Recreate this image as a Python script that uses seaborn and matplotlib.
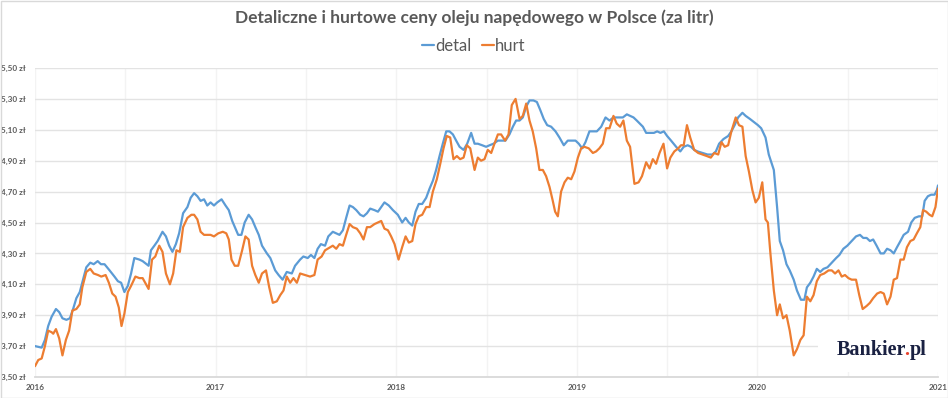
import numpy as np
import pandas as pd
import matplotlib
matplotlib.use("Agg")
import matplotlib.pyplot as plt
import seaborn as sns
from matplotlib.lines import Line2D
from matplotlib.patches import Rectangle

# Dane (rok dziesietny, cena w zl/litr)
detal_rok = [
    2016.000, 2016.037, 2016.055, 2016.073, 2016.092, 2016.116, 2016.134, 2016.152, 2016.174, 2016.193,
    2016.211, 2016.229, 2016.248, 2016.266, 2016.284, 2016.306, 2016.325, 2016.347, 2016.365, 2016.385,
    2016.413, 2016.440, 2016.459, 2016.477, 2016.495, 2016.514, 2016.532, 2016.550, 2016.578, 2016.596,
    2016.629, 2016.642, 2016.661, 2016.679, 2016.706, 2016.725, 2016.743, 2016.761, 2016.780, 2016.798,
    2016.820, 2016.844, 2016.862, 2016.881, 2016.899, 2016.917, 2016.936, 2016.954, 2016.972, 2016.991,
    2017.009, 2017.033, 2017.055, 2017.073, 2017.092, 2017.110, 2017.125, 2017.143, 2017.161, 2017.183,
    2017.202, 2017.220, 2017.239, 2017.257, 2017.284, 2017.303, 2017.330, 2017.349, 2017.371, 2017.394,
    2017.422, 2017.440, 2017.468, 2017.486, 2017.510, 2017.528, 2017.547, 2017.565, 2017.583, 2017.606,
    2017.624, 2017.649, 2017.668, 2017.686, 2017.705, 2017.723, 2017.742, 2017.760, 2017.779, 2017.801,
    2017.819, 2017.838, 2017.856, 2017.880, 2017.899, 2017.917, 2017.935, 2017.959, 2017.982, 2018.009,
    2018.033, 2018.052, 2018.070, 2018.089, 2018.107, 2018.125, 2018.144, 2018.166, 2018.185, 2018.203,
    2018.221, 2018.240, 2018.258, 2018.277, 2018.295, 2018.314, 2018.332, 2018.351, 2018.373, 2018.393,
    2018.415, 2018.434, 2018.452, 2018.476, 2018.498, 2018.517, 2018.539, 2018.563, 2018.581, 2018.605,
    2018.627, 2018.646, 2018.664, 2018.683, 2018.701, 2018.720, 2018.738, 2018.760, 2018.779, 2018.797,
    2018.817, 2018.836, 2018.858, 2018.882, 2018.904, 2018.928, 2018.950, 2018.969, 2018.993, 2019.011,
    2019.030, 2019.048, 2019.070, 2019.089, 2019.111, 2019.135, 2019.159, 2019.181, 2019.203, 2019.232,
    2019.255, 2019.277, 2019.295, 2019.314, 2019.332, 2019.366, 2019.384, 2019.403, 2019.427, 2019.445,
    2019.463, 2019.482, 2019.500, 2019.522, 2019.550, 2019.573, 2019.592, 2019.614, 2019.632, 2019.650,
    2019.669, 2019.696, 2019.724, 2019.751, 2019.770, 2019.788, 2019.812, 2019.838, 2019.856, 2019.874,
    2019.893, 2019.917, 2019.935, 2019.959, 2019.981, 2020.003, 2020.021, 2020.045, 2020.063, 2020.091,
    2020.109, 2020.124, 2020.142, 2020.161, 2020.179, 2020.201, 2020.219, 2020.241, 2020.260, 2020.274,
    2020.293, 2020.311, 2020.329, 2020.348, 2020.366, 2020.388, 2020.412, 2020.436, 2020.454, 2020.476,
    2020.498, 2020.522, 2020.546, 2020.568, 2020.586, 2020.605, 2020.623, 2020.641, 2020.660, 2020.682,
    2020.700, 2020.718, 2020.737, 2020.755, 2020.773, 2020.792, 2020.810, 2020.834, 2020.852, 2020.871,
    2020.894, 2020.913, 2020.926, 2020.944, 2020.962, 2020.981, 2020.994, 2021.000,
]
detal_cena = [
    3.70, 3.69, 3.74, 3.83, 3.89, 3.94, 3.92, 3.88, 3.87, 3.88,
    3.94, 4.01, 4.05, 4.13, 4.21, 4.24, 4.23, 4.25, 4.23, 4.23,
    4.19, 4.15, 4.12, 4.11, 4.05, 4.09, 4.17, 4.27, 4.26, 4.25,
    4.22, 4.32, 4.35, 4.38, 4.44, 4.41, 4.35, 4.31, 4.36, 4.43,
    4.56, 4.60, 4.66, 4.69, 4.67, 4.64, 4.65, 4.61, 4.63, 4.61,
    4.63, 4.65, 4.61, 4.58, 4.51, 4.46, 4.42, 4.42, 4.50, 4.55,
    4.52, 4.47, 4.42, 4.35, 4.30, 4.27, 4.19, 4.16, 4.13, 4.18,
    4.17, 4.22, 4.26, 4.28, 4.27, 4.29, 4.27, 4.33, 4.36, 4.35,
    4.41, 4.44, 4.43, 4.42, 4.45, 4.53, 4.61, 4.60, 4.58, 4.55,
    4.54, 4.56, 4.59, 4.58, 4.57, 4.60, 4.63, 4.61, 4.58, 4.55,
    4.50, 4.53, 4.50, 4.48, 4.57, 4.62, 4.62, 4.66, 4.72, 4.77,
    4.84, 4.93, 5.01, 5.09, 5.09, 5.07, 5.03, 4.99, 4.97, 5.01,
    5.08, 5.01, 5.01, 5.00, 4.99, 5.00, 5.01, 5.03, 5.03, 5.03,
    5.07, 5.12, 5.16, 5.16, 5.18, 5.25, 5.29, 5.29, 5.28, 5.23,
    5.17, 5.13, 5.12, 5.09, 5.05, 5.00, 5.03, 5.03, 5.03, 5.01,
    4.98, 5.02, 5.09, 5.09, 5.09, 5.12, 5.18, 5.16, 5.18, 5.18,
    5.18, 5.20, 5.19, 5.18, 5.16, 5.12, 5.08, 5.08, 5.08, 5.09,
    5.08, 5.09, 5.06, 5.03, 4.99, 4.96, 4.99, 5.00, 4.99, 4.97,
    4.96, 4.95, 4.94, 4.94, 4.96, 5.01, 5.04, 5.06, 5.09, 5.13,
    5.18, 5.21, 5.19, 5.17, 5.15, 5.13, 5.11, 5.05, 4.94, 4.84,
    4.60, 4.38, 4.32, 4.23, 4.19, 4.13, 4.06, 4.00, 4.00, 4.08,
    4.11, 4.15, 4.20, 4.18, 4.20, 4.21, 4.24, 4.27, 4.29, 4.33,
    4.35, 4.38, 4.41, 4.42, 4.40, 4.40, 4.38, 4.39, 4.35, 4.30,
    4.30, 4.33, 4.32, 4.30, 4.34, 4.38, 4.42, 4.44, 4.50, 4.53,
    4.54, 4.54, 4.64, 4.67, 4.68, 4.68, 4.71, 4.74,
]

hurt_rok = [
    2016.000, 2016.018, 2016.037, 2016.055, 2016.073, 2016.092, 2016.101, 2016.116, 2016.134, 2016.152,
    2016.171, 2016.189, 2016.207, 2016.229, 2016.248, 2016.262, 2016.284, 2016.306, 2016.325, 2016.349,
    2016.367, 2016.391, 2016.409, 2016.428, 2016.446, 2016.464, 2016.479, 2016.495, 2016.514, 2016.532,
    2016.556, 2016.578, 2016.596, 2016.629, 2016.648, 2016.666, 2016.688, 2016.706, 2016.725, 2016.747,
    2016.765, 2016.783, 2016.802, 2016.820, 2016.844, 2016.866, 2016.881, 2016.899, 2016.917, 2016.936,
    2016.972, 2016.991, 2017.015, 2017.040, 2017.059, 2017.073, 2017.088, 2017.106, 2017.125, 2017.147,
    2017.165, 2017.183, 2017.202, 2017.220, 2017.239, 2017.257, 2017.279, 2017.297, 2017.317, 2017.339,
    2017.358, 2017.376, 2017.394, 2017.413, 2017.431, 2017.450, 2017.468, 2017.495, 2017.523, 2017.547,
    2017.565, 2017.587, 2017.606, 2017.649, 2017.668, 2017.686, 2017.705, 2017.723, 2017.742, 2017.760,
    2017.782, 2017.801, 2017.819, 2017.838, 2017.856, 2017.880, 2017.899, 2017.917, 2017.935, 2017.954,
    2017.972, 2017.991, 2018.013, 2018.033, 2018.052, 2018.070, 2018.089, 2018.107, 2018.125, 2018.144,
    2018.166, 2018.185, 2018.203, 2018.225, 2018.244, 2018.262, 2018.280, 2018.299, 2018.317, 2018.336,
    2018.354, 2018.373, 2018.391, 2018.410, 2018.434, 2018.452, 2018.470, 2018.489, 2018.507, 2018.526,
    2018.544, 2018.563, 2018.581, 2018.603, 2018.622, 2018.640, 2018.661, 2018.683, 2018.701, 2018.720,
    2018.738, 2018.756, 2018.775, 2018.793, 2018.812, 2018.830, 2018.849, 2018.867, 2018.880, 2018.895,
    2018.913, 2018.932, 2018.950, 2018.969, 2018.987, 2019.006, 2019.024, 2019.042, 2019.066, 2019.089,
    2019.107, 2019.125, 2019.144, 2019.162, 2019.181, 2019.203, 2019.221, 2019.240, 2019.258, 2019.277,
    2019.295, 2019.319, 2019.342, 2019.361, 2019.384, 2019.403, 2019.421, 2019.439, 2019.458, 2019.480,
    2019.500, 2019.518, 2019.540, 2019.562, 2019.577, 2019.592, 2019.610, 2019.628, 2019.650, 2019.672,
    2019.696, 2019.720, 2019.742, 2019.761, 2019.783, 2019.801, 2019.819, 2019.838, 2019.856, 2019.880,
    2019.898, 2019.917, 2019.935, 2019.953, 2019.972, 2019.990, 2020.008, 2020.027, 2020.045, 2020.058,
    2020.072, 2020.091, 2020.109, 2020.124, 2020.142, 2020.161, 2020.179, 2020.201, 2020.219, 2020.238,
    2020.256, 2020.274, 2020.293, 2020.311, 2020.329, 2020.348, 2020.370, 2020.394, 2020.412, 2020.430,
    2020.449, 2020.467, 2020.485, 2020.504, 2020.522, 2020.546, 2020.564, 2020.583, 2020.605, 2020.623,
    2020.641, 2020.663, 2020.682, 2020.700, 2020.718, 2020.737, 2020.755, 2020.773, 2020.792, 2020.810,
    2020.828, 2020.847, 2020.865, 2020.883, 2020.902, 2020.917, 2020.935, 2020.953, 2020.968, 2020.986,
    2021.000,
]
hurt_cena = [
    3.57, 3.61, 3.62, 3.70, 3.80, 3.79, 3.78, 3.81, 3.75, 3.64,
    3.74, 3.80, 3.93, 3.94, 3.97, 4.08, 4.18, 4.20, 4.17, 4.16,
    4.15, 4.16, 4.11, 4.04, 4.02, 3.95, 3.83, 3.91, 4.05, 4.09,
    4.15, 4.14, 4.14, 4.07, 4.26, 4.28, 4.35, 4.31, 4.17, 4.10,
    4.17, 4.32, 4.31, 4.47, 4.53, 4.55, 4.55, 4.52, 4.44, 4.42,
    4.42, 4.41, 4.43, 4.44, 4.43, 4.39, 4.26, 4.22, 4.22, 4.32,
    4.41, 4.39, 4.22, 4.16, 4.11, 4.17, 4.19, 4.08, 3.98, 3.99,
    4.03, 4.06, 4.15, 4.11, 4.14, 4.11, 4.17, 4.16, 4.15, 4.16,
    4.26, 4.28, 4.32, 4.35, 4.33, 4.36, 4.35, 4.42, 4.49, 4.47,
    4.46, 4.43, 4.39, 4.47, 4.47, 4.49, 4.50, 4.51, 4.46, 4.45,
    4.41, 4.36, 4.26, 4.34, 4.41, 4.37, 4.38, 4.49, 4.54, 4.55,
    4.60, 4.60, 4.70, 4.78, 4.88, 4.98, 5.06, 5.05, 4.91, 4.93,
    4.91, 4.92, 5.00, 4.98, 4.84, 4.92, 4.90, 4.91, 4.97, 4.95,
    5.01, 5.07, 5.07, 5.03, 5.07, 5.26, 5.30, 5.17, 5.19, 5.27,
    5.16, 5.09, 4.98, 4.84, 4.84, 4.80, 4.73, 4.64, 4.57, 4.54,
    4.70, 4.76, 4.79, 4.78, 4.83, 4.92, 4.98, 4.99, 4.98, 4.95,
    4.96, 4.98, 5.01, 5.11, 5.11, 5.19, 5.14, 5.12, 5.16, 5.03,
    4.99, 4.75, 4.76, 4.80, 4.89, 4.85, 4.91, 4.88, 4.95, 5.01,
    4.85, 4.92, 4.96, 4.98, 5.00, 5.00, 5.13, 5.05, 4.97, 4.95,
    4.94, 4.93, 4.92, 4.95, 4.94, 5.02, 4.99, 5.00, 5.09, 5.18,
    5.13, 5.12, 4.93, 4.83, 4.71, 4.63, 4.66, 4.76, 4.52, 4.50,
    4.30, 4.06, 3.90, 3.97, 3.88, 3.90, 3.80, 3.64, 3.68, 3.74,
    3.77, 4.02, 3.99, 4.03, 4.12, 4.16, 4.17, 4.19, 4.19, 4.17,
    4.19, 4.15, 4.16, 4.14, 4.13, 4.13, 4.03, 3.94, 3.96, 3.98,
    4.01, 4.04, 4.05, 4.04, 3.97, 4.02, 4.13, 4.14, 4.26, 4.26,
    4.34, 4.38, 4.39, 4.43, 4.47, 4.58, 4.57, 4.55, 4.54, 4.60,
    4.72,
]

serie = ["detal", "hurt"]
kolory = ["#5b9bd5", "#ed7d31"]
lata = [2016, 2017, 2018, 2019, 2020, 2021]
poziomy = [3.5, 3.7, 3.9, 4.1, 4.3, 4.5, 4.7, 4.9, 5.1, 5.3, 5.5]

df = pd.concat([
    pd.DataFrame({"rok": detal_rok, "cena": detal_cena, "seria": "detal"}),
    pd.DataFrame({"rok": hurt_rok, "cena": hurt_cena, "seria": "hurt"}),
], ignore_index=True)

sns.set_style("whitegrid")
plt.rcParams["font.family"] = ["Lato", "DejaVu Sans"]
szary = "#595959"

fig = plt.figure(figsize=(9.48, 3.98), dpi=100)
ax = fig.add_axes([35 / 948, 1 - 377 / 398, 903 / 948, 309 / 398])

sns.lineplot(data=df, x="rok", y="cena", hue="seria", hue_order=serie,
             palette=kolory, estimator=None, sort=False, linewidth=1.6,
             legend=False, ax=ax)

ax.set_xlim(2016, 2021)
ax.set_ylim(3.5, 5.5)
ax.set_xticks(lata)
ax.set_xticklabels([str(r) for r in lata])
ax.set_xticks([r + 0.5 for r in lata[:-1]], minor=True)
ax.set_yticks(poziomy)
ax.set_yticklabels([f"{v:.2f} zł".replace(".", ",") for v in poziomy])
ax.set_xlabel("")
ax.set_ylabel("")

ax.grid(False)
ax.grid(axis="y", color="#e3e3e3", linewidth=1.0)
ax.grid(axis="x", which="both", color="#f3f3f3", linewidth=1.0)
for s in ["top", "right", "left"]:
    ax.spines[s].set_visible(False)
ax.spines["bottom"].set_color("#d9d9d9")
ax.spines["bottom"].set_linewidth(1.3)
ax.tick_params(axis="both", which="both", length=0, labelsize=5.9, labelcolor=szary)
ax.tick_params(axis="y", pad=7)
ax.tick_params(axis="x", pad=5)
for lab in ax.get_xticklabels() + ax.get_yticklabels():
    lab.set_fontweight("bold")

fig.text(0.5, 1 - 18 / 398, "Detaliczne i hurtowe ceny oleju napędowego w Polsce (za litr)",
         ha="center", va="center", fontsize=12.5, fontweight="bold", color=szary)

uchwyty = [Line2D([], [], color=k, linewidth=1.6) for k in kolory]
fig.legend(uchwyty, serie, loc="center", bbox_to_anchor=(0.5, 1 - 46 / 398),
           ncol=2, frameon=False, fontsize=12, handlelength=0.7, handletextpad=0.1,
           columnspacing=0.6, labelcolor=szary)

# biale tlo pod logo
fig.add_artist(Rectangle((818 / 948, 1 - 372 / 398), 122 / 948, 52 / 398,
                         transform=fig.transFigure, facecolor="white",
                         edgecolor="none", zorder=5))

# logo Bankier.pl skladane z trzech czesci (czerwona kropka)
logo = dict(fontsize=14.5, fontweight="bold", family="Liberation Serif", zorder=6,
            va="baseline", ha="left")
renderer = fig.canvas.get_renderer()
lx, ly = 837 / 948, 1 - 355 / 398


def szerokosc(napis):
    t = fig.text(lx, ly, napis, **logo)
    w = t.get_window_extent(renderer).width
    t.remove()
    return w / fig.bbox.width


x_kropka = lx + szerokosc("Bankier.") - szerokosc(".")
x_pl = lx + szerokosc("Bankier.pl") - szerokosc("pl")
fig.text(lx, ly, "Bankier", color="#1a2142", **logo)
fig.text(x_kropka, ly, ".", color="#e8412c", **logo)
fig.text(x_pl, ly, "pl", color="#1a2142", **logo)

# ramka wokol calego obrazka
fig.add_artist(Rectangle((0.5 / 948, 0.5 / 398), 947 / 948, 397 / 398,
                         transform=fig.transFigure, facecolor="none",
                         edgecolor="#d9d9d9", linewidth=1.0, zorder=10))

fig.savefig("out.png", dpi=100)
